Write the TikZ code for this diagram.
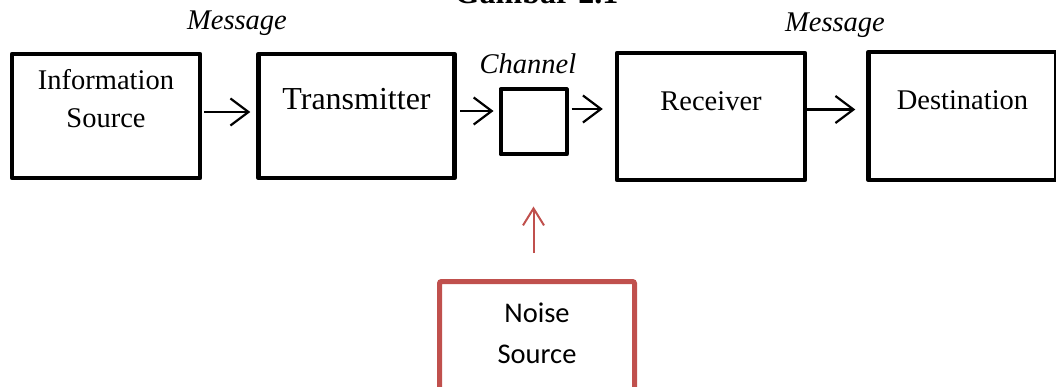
\documentclass[tikz,border=0pt]{standalone}
\usepackage{fontspec}
\setmainfont{Liberation Serif}
\newfontfamily\noisefont{Carlito}
\usetikzlibrary{positioning,arrows.meta}
\definecolor{noisered}{HTML}{C0504D}
\tikzset{
  flowarrow/.style={-{Straight Barb[length=18pt,width=27pt]}, line width=2.2pt},
  noisearrow/.style={-{Straight Barb[length=17pt,width=21pt]}, line width=2pt, draw=noisered},
  blockbox/.style={draw, line width=4.5pt, line join=round, minimum width=188pt, minimum height=124pt, align=center, text height=20pt, text depth=32pt, font=\fontsize{28.5}{38}\selectfont},
  chanbox/.style={draw, line width=4pt, line join=round, minimum width=66pt, minimum height=65pt},
  noisebox/.style={draw=noisered, line width=5pt, rounded corners=2pt, minimum width=195pt, minimum height=140pt, align=center, text height=43pt, text depth=20pt, font=\noisefont\fontsize{28.5}{41}\selectfont},
  msglabel/.style={font=\itshape\fontsize{28.5}{34}\selectfont, anchor=base, inner sep=0pt},
  titlelabel/.style={font=\bfseries\fontsize{32}{38}\selectfont, anchor=base, inner sep=0pt}
}
\begin{document}
\begin{tikzpicture}[x=1pt, y=-1pt]
  \useasboundingbox (0,0) rectangle (1056,387);
  \clip (0,0) rectangle (1056,387);
  \node[titlelabel] (title) at (536.5,4) {Gambar 2.1};
  % main chain
  \node[blockbox, text height=44pt, text depth=20pt] (info) at (106,116) {Information\\ Source};
  \node[blockbox, minimum width=196pt, font=\fontsize{32}{38}\selectfont] (trans) at (356.5,116) {Transmitter};
  \node[chanbox] (chan) at (533.5,122) {};
  \node[blockbox, minimum height=127pt] (recv) at (711,116.5) {Receiver};
  \node[blockbox, minimum height=128pt] (dest) at (962.5,116) {Destination};
  \node[noisebox] (noise) at (537,351.5) {Noise\\ Source};
  % labels
  \node[msglabel] (msgA) at (237,30) {Message};
  \node[msglabel] (chanlabel) at (528,74) {Channel};
  \node[msglabel] (msgB) at (835,32) {Message};
  % arrows
  \draw[flowarrow, shorten <=2pt, shorten >=6pt] ([yshift=4pt]info.east) -- ([yshift=4pt]trans.west);
  \draw[flowarrow, shorten <=3.5pt, shorten >=5pt] ([yshift=5pt]trans.east) -- ([yshift=5pt]trans.east -| chan.west);
  \draw[flowarrow, shorten <=3pt, shorten >=12pt] ([yshift=13pt]chan.east) -- ([yshift=13pt]chan.east -| recv.west);
  \draw[flowarrow, shorten >=11pt] ([yshift=7pt]recv.east) -- ([yshift=7pt]recv.east -| dest.west);
  \draw[noisearrow, shorten <=26pt, shorten >=50pt] (noise.north -| chan.south) -- (chan.south);
\end{tikzpicture}
\end{document}
